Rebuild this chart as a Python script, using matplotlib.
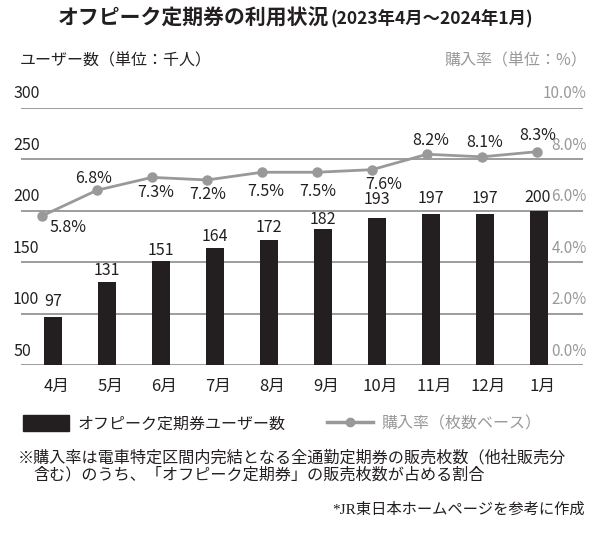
import matplotlib
matplotlib.use("Agg")
import matplotlib.pyplot as plt
from matplotlib.lines import Line2D
from matplotlib.patches import Patch

plt.rcParams['font.family'] = ['Noto Sans CJK JP', 'DejaVu Sans']

# data
months = ['4月', '5月', '6月', '7月', '8月', '9月', '10月', '11月', '12月', '1月']
users = [97, 131, 151, 164, 172, 182, 193, 197, 197, 200]      # 千人
rate = [5.8, 6.8, 7.3, 7.2, 7.5, 7.5, 7.6, 8.2, 8.1, 8.3]      # %
user_ticks = [50, 100, 150, 200, 250, 300]
rate_ticks = [0, 2, 4, 6, 8, 10]

# label placement (pixels)
rate_offsets = [(26, -12), (-3, 12), (4, -15), (1, -15), (4, -19),
                (1, -19), (12, -15), (4, 14), (3, 14), (1, 16)]
user_offsets = [15, 11, 11, 11, 12, 10, 18, 15, 15, 13]

BLACK = '#231f20'
GRAY = '#999999'
GRID = '#8c8c8c'

fig = plt.figure(figsize=(6, 5.34), dpi=100)
pos = [21 / 600, 169 / 534, 562 / 600, 257 / 534]
ax = fig.add_axes(pos)
x = list(range(len(months)))
ax.bar(x, users, width=0.333, color=BLACK, bottom=0, zorder=2)
ax.set_xlim(-0.593, 9.81)
ax.set_ylim(50, 300)
for s in ax.spines.values():
    s.set_visible(False)
ax.set_yticks([])
for v in user_ticks:
    ax.axhline(v, color=GRID, lw=1.2, zorder=1)
    ax.annotate(str(v), xy=(0, v), xycoords=('axes fraction', 'data'),
                xytext=(-8, 14), textcoords='offset pixels',
                ha='left', va='center', fontsize=11.5, color=BLACK)
ax.set_xticks([i + 0.06 for i in x])
ax.set_xticklabels(months, fontsize=12, color=BLACK)
ax.tick_params(axis='x', length=0, pad=9)
for i, v in enumerate(users):
    ax.annotate(str(v), xy=(i, v), xytext=(-2 if i == 9 else 0, user_offsets[i]),
                textcoords='offset pixels', ha='center', va='center',
                fontsize=11.5, color=BLACK)

# rate line on its own overlay axes
ax2 = fig.add_axes(pos, frameon=False)
ax2.set_xlim(-0.382, 9.836)
ax2.set_ylim(0, 10)
ax2.set_xticks([])
ax2.set_yticks([])
ax2.plot(x, rate, color=GRAY, lw=2, marker='o', markersize=6.5, zorder=3)
for i, v in enumerate(rate):
    ax2.annotate(f'{v:.1f}%', xy=(i, v), xytext=rate_offsets[i],
                 textcoords='offset pixels', ha='center', va='center',
                 fontsize=11.5, color=BLACK)
for v in rate_ticks:
    ax2.annotate(f'{v:.1f}%', xy=(1, v), xycoords=('axes fraction', 'data'),
                 xytext=(4, 14), textcoords='offset pixels',
                 ha='right', va='center', fontsize=11, color=GRAY)

# titles
fig.text(329 / 600, 1 - 18 / 534, 'オフピーク定期券の利用状況', ha='right', va='center',
         fontsize=15, fontweight='bold', color=BLACK)
fig.text(330 / 600, 1 - 19 / 534, '(2023年4月～2024年1月)', ha='left', va='center',
         fontsize=12.5, fontweight='bold', color=BLACK)
fig.text(20 / 600, 1 - 61 / 534, 'ユーザー数（単位：千人）', ha='left', va='center',
         fontsize=11.5, color=BLACK)
fig.text(587 / 600, 1 - 61 / 534, '購入率（単位：%）', ha='right', va='center',
         fontsize=11.5, color=GRAY)

# legend
handles = [Patch(facecolor=BLACK, edgecolor=BLACK),
           Line2D([], [], color=GRAY, lw=2.5, marker='o', markersize=6)]
labels = ['オフピーク定期券ユーザー数', '購入率（枚数ベース）']
fig.legend(handles, labels, loc='center left', bbox_to_anchor=(23 / 600, 1 - 424 / 534),
           ncol=2, frameon=False, fontsize=11.5, handlelength=2.9, handleheight=1.15,
           handletextpad=0.5, columnspacing=2.6, borderpad=0, borderaxespad=0,
           labelcolor=[BLACK, GRAY])

# notes
fig.text(18 / 600, 1 - 458 / 534,
         '※購入率は電車特定区間内完結となる全通勤定期券の販売枚数（他社販売分',
         ha='left', va='center', fontsize=11.6, color=BLACK)
fig.text(33 / 600, 1 - 475 / 534,
         '含む）のうち、「オフピーク定期券」の販売枚数が占める割合',
         ha='left', va='center', fontsize=11.6, color=BLACK)
fig.text(585 / 600, 1 - 510 / 534, '*JR東日本ホームページを参考に作成',
         ha='right', va='center', fontsize=11, color=BLACK,
         family=['Liberation Serif', 'Noto Sans CJK JP'])

fig.savefig('out.png', dpi=100, facecolor='white')
